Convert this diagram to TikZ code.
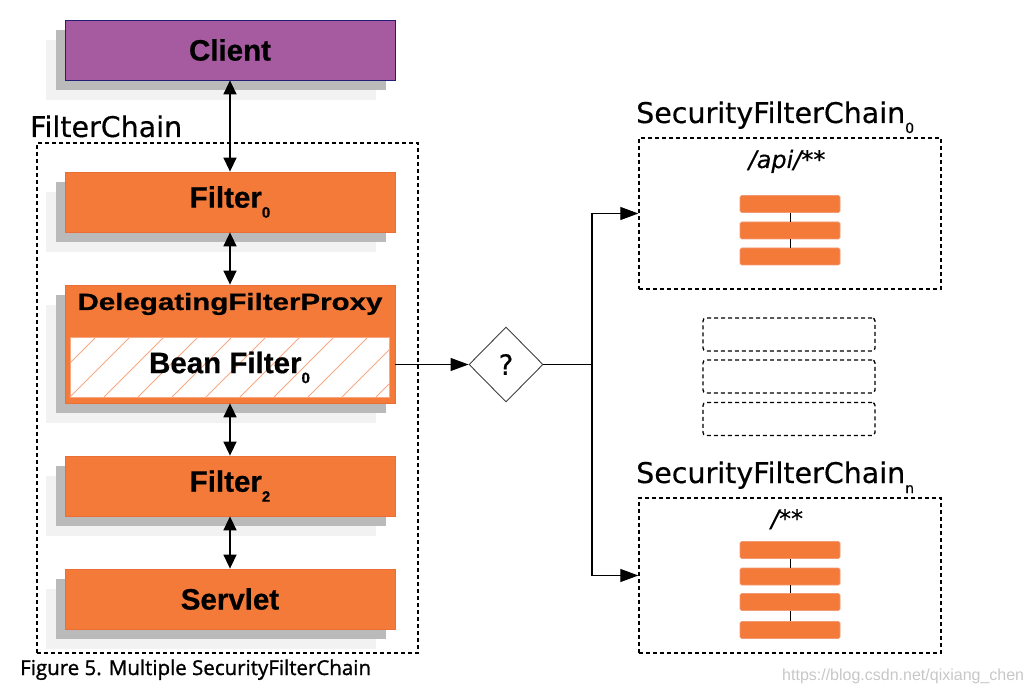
\documentclass[tikz,border=0pt]{standalone}
\usepackage{fontspec}
\usepackage{graphicx}
\setmainfont{Liberation Sans}[BoldFeatures={FakeBold=0.6}]
\newfontfamily\lblfont{DejaVu Sans}[FakeBold=0.4]
\newfontfamily\capfont{Open Sans}[FakeBold=1.2]
\usetikzlibrary{arrows.meta,shapes.geometric,shadows}
\definecolor{springorange}{RGB}{244,122,58}
\definecolor{orangeedge}{RGB}{236,110,52}
\definecolor{clientpurple}{RGB}{166,90,160}
\definecolor{clientedge}{RGB}{36,30,120}
\definecolor{hatchorange}{RGB}{248,168,128}
\definecolor{shadowgray}{RGB}{186,186,186}
\newcommand\lowidx[1]{\raisebox{-10pt}{\fontsize{15}{15}\selectfont #1}}
\newcommand\lowsub[1]{\raisebox{-10pt}{\fontsize{14}{14}\selectfont #1}}
\tikzset{
  stage/.style={rectangle, draw=orangeedge, fill=springorange, line width=0.8pt,
    minimum width=330pt, minimum height=60pt, inner sep=0pt,
    font=\bfseries\fontsize{29.5}{30}\selectfont,
    drop shadow={shadow xshift=-19pt, shadow yshift=-20pt, fill=black!5, opacity=1},
    drop shadow={shadow xshift=-9pt, shadow yshift=-10pt, fill=shadowgray, opacity=1}},
  bean/.style={rectangle, draw=hatchorange, line width=1pt, fill=white,
    minimum width=319pt, minimum height=59pt, inner sep=0pt,
    font=\bfseries\fontsize{29.5}{30}\selectfont,
    path picture={
      \foreach \k in {-2,...,10}
        \draw[hatchorange, line width=0.8pt]
          ([xshift=\k*34pt]path picture bounding box.south west) -- ++(60,-60);
    }},
  chainbox/.style={rectangle, draw, dash pattern=on 4pt off 3pt, line width=1.3pt,
    inner sep=0pt},
  spare/.style={chainbox, rounded corners=3pt, minimum width=172pt, minimum height=33pt},
  bar/.style={rectangle, fill=springorange, draw=orangeedge!70!white, line width=0.6pt,
    rounded corners=1.5pt, minimum width=100pt, minimum height=17pt, inner sep=0pt},
  title/.style={font=\lblfont\fontsize{28.5}{30}\selectfont, inner sep=0pt},
  path text/.style={font=\lblfont\itshape\fontsize{24}{26}\selectfont, inner sep=0pt},
  decision/.style={diamond, draw=black!75, line width=0.9pt, fill=white,
    minimum width=74pt, minimum height=75pt, inner sep=0pt,
    font=\lblfont\fontsize{28}{30}\selectfont},
  link/.style={{Triangle[length=14pt,width=13pt]}-{Triangle[length=14pt,width=13pt]},
    line width=1.5pt},
  flow/.style={-{Triangle[length=18pt,width=13pt]}, line width=1.1pt},
  wire/.style={line width=1.1pt}
}
\begin{document}
\begin{tikzpicture}[x=1pt,y=-1pt]
  \useasboundingbox (0,0) rectangle (1030,692);

  \node[chainbox, minimum width=381pt, minimum height=510pt] (chain) at (227.5,398) {};
  \node[title, anchor=base west] (chainlabel) at (30,137) {FilterChain};

  \node[stage, fill=clientpurple, draw=clientedge] (client) at (230,50) {Client};
  \node[stage] (filter0) at (230,202) {Filter\lowidx{0}};
  \node[stage, minimum height=118pt] (proxy) at (230,344) {};
  \node[anchor=base, inner sep=0pt, font=\bfseries\fontsize{29.5}{30}\selectfont]
    (proxylabel) at (230,310) {\scalebox{1}[0.8]{DelegatingFilterProxy}};
  \node[bean] (bean) at (229.5,367.5) {Bean Filter\lowidx{0}};
  \node[stage] (filter2) at (230,486) {Filter\lowidx{2}};
  \node[stage] (servlet) at (230,599) {Servlet};

  \begin{scope}[link]
    \draw (client) -- (filter0);
    \draw (filter0) -- (proxy);
    \draw (proxy) -- (filter2);
    \draw (filter2) -- (servlet);
  \end{scope}

  \node[decision] (decide) at (506,364.5) {?};
  \draw[flow] (proxy.east |- decide.west) -- (decide.west);

  % SecurityFilterChain_0
  \node[chainbox, minimum width=302pt, minimum height=151pt] (sfc0) at (790,213.5) {};
  \node[title, anchor=base west] (sfc0label) at (636,123) {SecurityFilterChain\lowsub{0}};
  \node[path text, anchor=base] (api) at (787,168) {/api/**};
  \foreach \n/\y in {1/204,2/230.5,3/256.5}
    \node[bar] (bar0\n) at (790,\y) {};
  \draw (bar01) -- (bar02);
  \draw (bar02) -- (bar03);

  \foreach \n/\y in {1/334.5,2/376.5,3/419}
    \node[spare] (spare\n) at (789,\y) {};

  % SecurityFilterChain_n
  \node[chainbox, minimum width=302pt, minimum height=155pt] (sfcn) at (790,575.5) {};
  \node[title, anchor=base west] (sfcnlabel) at (636,483) {SecurityFilterChain\lowsub{n}};
  \node[path text, anchor=base] (any) at (787,527) {/**};
  \foreach \n/\y in {1/550,2/576.5,3/602,4/630}
    \node[bar] (barn\n) at (790,\y) {};
  \draw (barn1) -- (barn2);
  \draw (barn2) -- (barn3);
  \draw (barn3) -- (barn4);

  \coordinate (split) at (592,364.5);
  \draw[wire] (decide.east) -- (split);
  \draw[flow] (split) |- (sfc0.west);
  \draw[flow] (split) |- (sfcn.west);

  \node[anchor=base west, inner sep=0pt, font=\capfont\fontsize{20.5}{22}\selectfont]
    (caption) at (20,675) {Figure 5. Multiple SecurityFilterChain};
  \node[anchor=base west, inner sep=0pt, font=\fontsize{16}{17}\selectfont, text=black!22]
    (mark) at (782,680) {https://blog.csdn.net/qixiang\_chen};
\end{tikzpicture}
\end{document}
